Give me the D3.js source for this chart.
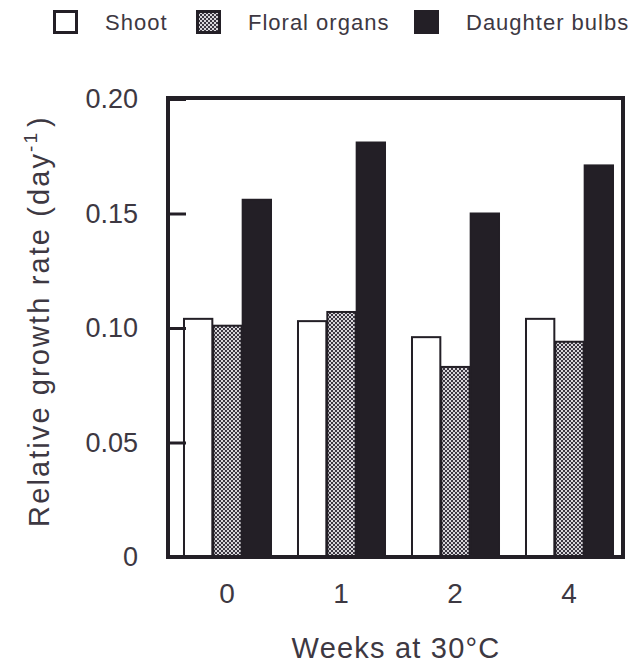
<!DOCTYPE html>
<html>
<head>
<meta charset="utf-8">
<script src="https://cdn.jsdelivr.net/npm/d3@7"></script>
<style>
  html, body { margin: 0; padding: 0; background: #fff; }
  svg { display: block; font-family: "Liberation Sans", Arial, Helvetica, sans-serif; }
</style>
</head>
<body>
<svg id="chart" width="630" height="667"></svg>
<script>
// Relative growth rate of plant parts after weeks at 30°C
const weeks = ["0", "1", "2", "4"];
const seriesNames = ["Shoot", "Floral organs", "Daughter bulbs"];
const shoot = [0.104, 0.103, 0.096, 0.104];
const floral = [0.101, 0.107, 0.083, 0.094];
const bulbs = [0.156, 0.181, 0.150, 0.171];
const yTicks = [0, 0.05, 0.10, 0.15, 0.20];

const ink = "#231f26";
const textCol = "#3d3842";

const svg = d3.select("#chart");
const frame = { left: 168, right: 623, top: 98, bottom: 557 };

// Stipple pattern for floral organs
const defs = svg.append("defs");
const pat = defs.append("pattern")
  .attr("id", "stipple").attr("patternUnits", "userSpaceOnUse")
  .attr("width", 4).attr("height", 4);
pat.append("rect").attr("width", 4).attr("height", 4).attr("fill", "#d8d6da");
pat.append("rect").attr("x", 0).attr("y", 0).attr("width", 2).attr("height", 2).attr("fill", "#3a3640");
pat.append("rect").attr("x", 2).attr("y", 2).attr("width", 2).attr("height", 2).attr("fill", "#3a3640");

const fills = ["#ffffff", "url(#stipple)", ink];

const x0 = d3.scaleBand().domain(weeks).range([170, 626]).paddingInner(0.228).paddingOuter(0.114);
const x1 = d3.scaleBand().domain(seriesNames).range([0, x0.bandwidth()]);
const y = d3.scaleLinear().domain([0, 0.2]).range([557, 99]);

const data = weeks.map((w, i) => ({
  week: w,
  values: [shoot[i], floral[i], bulbs[i]].map((v, j) => ({ key: seriesNames[j], value: v, idx: j }))
}));

// Bars
const groups = svg.append("g").selectAll("g").data(data).join("g")
  .attr("transform", d => `translate(${x0(d.week)},0)`);
groups.selectAll("rect").data(d => d.values).join("rect")
  .attr("x", d => x1(d.key) + 1)
  .attr("y", d => y(d.value))
  .attr("width", x1.bandwidth() - 1)
  .attr("height", d => y(0) - y(d.value))
  .attr("fill", d => fills[d.idx])
  .attr("stroke", ink)
  .attr("stroke-width", 2);

// Y axis with inward ticks
const yAxis = d3.axisLeft(y).tickValues(yTicks)
  .tickFormat(d => d === 0 ? "0" : d3.format(".2f")(d))
  .tickSizeInner(-18).tickSizeOuter(0).tickPadding(30);
const gy = svg.append("g").attr("transform", `translate(${frame.left},0)`).call(yAxis);
gy.select(".domain").remove();
gy.selectAll(".tick line").attr("stroke", ink).attr("stroke-width", 3);
gy.selectAll(".tick text").attr("fill", textCol).attr("font-size", 27)
  .attr("font-family", "Liberation Sans, Arial, sans-serif");

// X labels (no tick marks)
const xAxis = d3.axisBottom(x0).tickSize(0).tickPadding(26);
const gx = svg.append("g").attr("transform", `translate(0,${frame.bottom})`).call(xAxis);
gx.select(".domain").remove();
gx.selectAll(".tick text").attr("fill", textCol).attr("font-size", 28)
  .attr("font-family", "Liberation Sans, Arial, sans-serif");

// Frame
svg.append("rect")
  .attr("x", frame.left).attr("y", frame.top)
  .attr("width", frame.right - frame.left).attr("height", frame.bottom - frame.top)
  .attr("fill", "none").attr("stroke", ink).attr("stroke-width", 4);

// Axis titles
svg.append("text")
  .attr("x", 396).attr("y", 658).attr("text-anchor", "middle")
  .attr("fill", textCol).attr("font-size", 29).attr("letter-spacing", 1.2)
  .text("Weeks at 30°C");

const yt = svg.append("text")
  .attr("transform", "translate(49,321) rotate(-90)")
  .attr("text-anchor", "middle").attr("fill", textCol)
  .attr("font-size", 29).attr("letter-spacing", 2.1);
yt.append("tspan").text("Relative growth rate (day");
yt.append("tspan").attr("font-size", 19).attr("dy", -12).text("-1");
yt.append("tspan").attr("dy", 12).attr("dx", 4).text(")");

// Legend
const legendX = [53, 196, 414];
const legend = svg.append("g").selectAll("g").data(seriesNames).join("g")
  .attr("transform", (d, i) => `translate(${legendX[i]},10)`);
legend.append("rect")
  .attr("x", 1.5).attr("y", 1.5).attr("width", 22).attr("height", 21)
  .attr("fill", (d, i) => fills[i]).attr("stroke", ink).attr("stroke-width", 3);
legend.append("text")
  .attr("x", 52).attr("y", 20).attr("fill", textCol).attr("font-size", 22)
  .attr("letter-spacing", 1)
  .text(d => d);
</script>
</body>
</html>
